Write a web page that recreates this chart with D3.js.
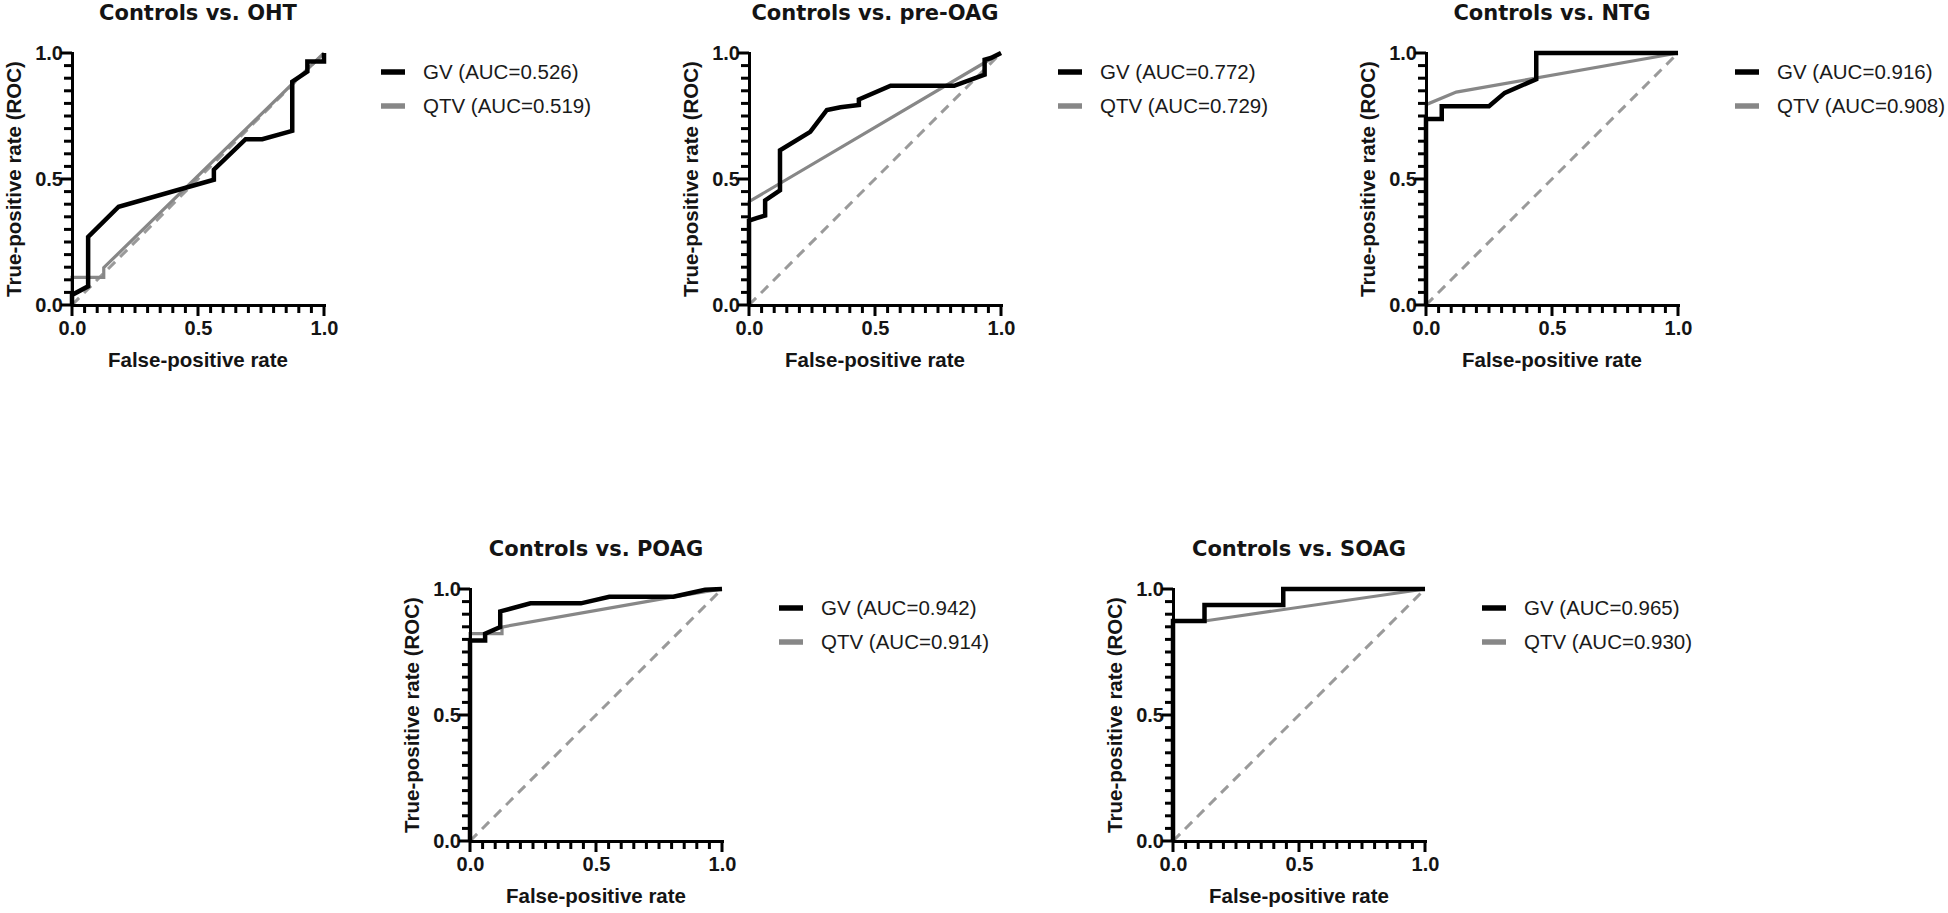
<!DOCTYPE html>
<html>
<head>
<meta charset="utf-8">
<title>ROC curves</title>
<script src="https://cdn.jsdelivr.net/npm/d3@7"></script>
<style>
	body { margin: 0; background: #fff; }
	svg { display: block; }
</style>
</head>
<body>
<div id="chart"></div>
<script>
/*global d3 */
// panel titles and AUC values, as printed in the legends
var titles = ['Controls vs. OHT', 'Controls vs. pre-OAG', 'Controls vs. NTG', 'Controls vs. POAG', 'Controls vs. SOAG'];
var seriesNames = ['GV', 'QTV'];
var gvAuc = ['0.526', '0.772', '0.916', '0.942', '0.965'];
var qtvAuc = ['0.519', '0.729', '0.908', '0.914', '0.930'];
var tickLabels = ['0.0', '0.5', '1.0'];
var majorTicks = [0, 0.5, 1];

// ROC points [false-positive rate, true-positive rate]
var gvOht = [[0, 0], [0, 0.04], [0.064, 0.074], [0.064, 0.27], [0.185, 0.39], [0.563, 0.497], [0.563, 0.537],
	[0.689, 0.658], [0.755, 0.658], [0.874, 0.691], [0.874, 0.886], [0.934, 0.926], [0.934, 0.966], [1, 0.966], [1, 1]];
var qtvOht = [[0, 0], [0, 0.11], [0.126, 0.11], [0.126, 0.148], [1, 1]];

var gvPreOag = [[0, 0], [0, 0.335], [0.03, 0.345], [0.064, 0.355], [0.064, 0.415], [0.123, 0.455], [0.123, 0.614],
	[0.243, 0.687], [0.309, 0.774], [0.363, 0.785], [0.436, 0.794], [0.436, 0.816], [0.562, 0.87], [0.814, 0.87],
	[0.935, 0.914], [0.935, 0.973], [0.96, 0.98], [1, 1]];
var qtvPreOag = [[0, 0], [0, 0.41], [1, 1]];

var gvNtg = [[0, 0], [0, 0.738], [0.0625, 0.738], [0.0625, 0.789], [0.25, 0.789], [0.3125, 0.842], [0.4375, 0.896],
	[0.4375, 1], [1, 1]];
var qtvNtg = [[0, 0], [0, 0.795], [0.12, 0.845], [1, 1]];

var gvPoag = [[0, 0], [0, 0.796], [0.06, 0.796], [0.06, 0.823], [0.12, 0.849], [0.12, 0.911], [0.24, 0.943],
	[0.44, 0.943], [0.553, 0.969], [0.807, 0.969], [0.933, 0.997], [1, 1]];
var qtvPoag = [[0, 0], [0, 0.823], [0.127, 0.823], [0.127, 0.849], [0.807, 0.969], [1, 1]];

var gvSoag = [[0, 0], [0, 0.873], [0.125, 0.873], [0.125, 0.937], [0.4375, 0.937], [0.4375, 1], [1, 1]];
var qtvSoag = [[0, 0], [0, 0.873], [0.125, 0.873], [1, 1]];

var chanceLine = [[0, 0], [1, 1]];

(function (global) {
	'use strict';
	var width = 1948,
		height = 913,
		plotSize = 252,
		minorLen = 8,
		majorLen = 11,
		arial = '"Liberation Sans", Arial, sans-serif',
		titleFont = '"DejaVu Sans", Verdana, sans-serif',
		black = '#000',
		grey = '#878787',
		dashGrey = '#9a9a9a',
		textColor = '#141414',
		// plot-area corners of the five panels
		origins = [[72, 53], [749, 53], [1426, 53], [470, 589], [1173, 589]],
		gvCurves = [gvOht, gvPreOag, gvNtg, gvPoag, gvSoag],
		qtvCurves = [qtvOht, qtvPreOag, qtvNtg, qtvPoag, qtvSoag],
		svg, x, y, line, tickLength,
		styleAxis, drawTicks, drawAxes, drawLegend, drawPanel;

	svg = d3.select('#chart').append('svg')
		.attr('width', width)
		.attr('height', height);

	svg.append('rect')
		.attr('width', width)
		.attr('height', height)
		.attr('fill', '#fff');

	x = d3.scaleLinear().domain([0, 1]).range([0, plotSize]);
	y = d3.scaleLinear().domain([0, 1]).range([plotSize, 0]);

	line = d3.line()
		.x(function (d) { return x(d[0]); })
		.y(function (d) { return y(d[1]); });

	tickLength = function (d) {
		return majorTicks.indexOf(d) >= 0 ? majorLen : minorLen;
	};

	styleAxis = function (axis) {
		axis.select('.domain')
			.attr('stroke', black)
			.attr('stroke-width', 3)
			.attr('stroke-linecap', 'square');
		axis.selectAll('.tick line').remove();
		axis.selectAll('.tick text')
			.attr('fill', textColor)
			.style('font-family', arial)
			.style('font-weight', 'bold')
			.style('font-size', '20px');
	};

	// tick marks every 0.05, the labelled ones a bit longer
	drawTicks = function (g) {
		g.append('g')
			.attr('class', 'x-ticks')
			.selectAll('line')
			.data(x.ticks(20))
			.enter().append('line')
			.attr('x1', function (d) { return x(d); })
			.attr('x2', function (d) { return x(d); })
			.attr('y1', plotSize)
			.attr('y2', function (d) { return plotSize + tickLength(d); })
			.attr('stroke', black)
			.attr('stroke-width', 3);

		g.append('g')
			.attr('class', 'y-ticks')
			.selectAll('line')
			.data(y.ticks(20))
			.enter().append('line')
			.attr('y1', function (d) { return y(d); })
			.attr('y2', function (d) { return y(d); })
			.attr('x1', 0)
			.attr('x2', function (d) { return -tickLength(d); })
			.attr('stroke', black)
			.attr('stroke-width', 3);
	};

	drawAxes = function (g) {
		var fmt = function (d) {
			return tickLabels[majorTicks.indexOf(d)];
		};

		g.append('g')
			.attr('transform', 'translate(0,' + plotSize + ')')
			.call(d3.axisBottom(x).tickValues(majorTicks).tickSize(majorLen).tickSizeOuter(0).tickPadding(3).tickFormat(fmt))
			.call(styleAxis)
			.selectAll('.tick text').attr('dy', '0.82em');
		g.append('g')
			.call(d3.axisLeft(y).tickValues(majorTicks).tickSize(8).tickSizeOuter(0).tickPadding(1).tickFormat(fmt))
			.call(styleAxis);

		drawTicks(g);

		// axis titles
		g.append('text')
			.attr('x', plotSize / 2)
			.attr('y', plotSize + 62)
			.attr('text-anchor', 'middle')
			.style('font-family', arial)
			.style('font-weight', 'bold')
			.style('font-size', '20.5px')
			.attr('fill', textColor)
			.text('False-positive rate');

		g.append('text')
			.attr('transform', 'translate(-51,' + (plotSize / 2) + ') rotate(-90)')
			.attr('text-anchor', 'middle')
			.style('font-family', arial)
			.style('font-weight', 'bold')
			.style('font-size', '20.5px')
			.attr('fill', textColor)
			.text('True-positive rate (ROC)');
	};

	drawLegend = function (g, i) {
		var legend, rows;
		legend = g.append('g').attr('transform', 'translate(' + (plotSize + 57) + ',0)');
		rows = legend.selectAll('g.row')
			.data([
				{ name: seriesNames[0], auc: gvAuc[i], color: black },
				{ name: seriesNames[1], auc: qtvAuc[i], color: grey }
			])
			.enter().append('g')
			.attr('class', 'row')
			.attr('transform', function (d, k) {
				return 'translate(0,' + (19 + k * 34) + ')';
			});

		rows.append('line')
			.attr('x1', 0)
			.attr('x2', 24)
			.attr('stroke', function (d) { return d.color; })
			.attr('stroke-width', 5.5);

		rows.append('text')
			.attr('x', 42)
			.attr('dy', '0.35em')
			.style('font-family', arial)
			.style('font-size', '20.5px')
			.attr('fill', '#1a1a1a')
			.text(function (d) { return d.name + ' (AUC=' + d.auc + ')'; });
	};

	drawPanel = function (i) {
		var g = svg.append('g')
			.attr('transform', 'translate(' + origins[i][0] + ',' + origins[i][1] + ')');

		// title
		g.append('text')
			.attr('x', plotSize / 2)
			.attr('y', -33)
			.attr('text-anchor', 'middle')
			.style('font-family', titleFont)
			.style('font-weight', 'bold')
			.style('font-size', '21px')
			.attr('fill', textColor)
			.text(titles[i]);

		// reference diagonal
		g.append('path')
			.datum(chanceLine)
			.attr('d', line)
			.attr('fill', 'none')
			.attr('stroke', dashGrey)
			.attr('stroke-width', 3)
			.attr('stroke-dasharray', '10,7');

		g.append('path')
			.datum(qtvCurves[i])
			.attr('d', line)
			.attr('fill', 'none')
			.attr('stroke', grey)
			.attr('stroke-width', 3.2)
			.attr('stroke-linejoin', 'miter');

		g.append('path')
			.datum(gvCurves[i])
			.attr('d', line)
			.attr('fill', 'none')
			.attr('stroke', black)
			.attr('stroke-width', 4.5)
			.attr('stroke-linejoin', 'miter');

		drawAxes(g);
		drawLegend(g, i);
	};

	titles.forEach(function (t, i) {
		drawPanel(i);
	});
}(this));
</script>
</body>
</html>
